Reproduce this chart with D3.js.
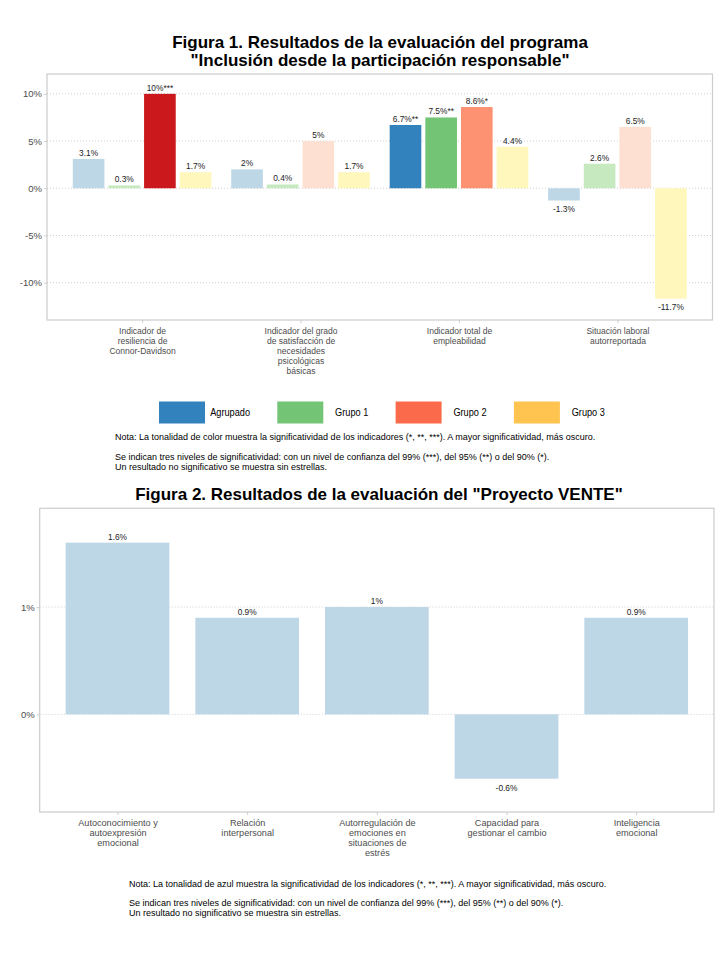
<!DOCTYPE html>
<html><head><meta charset="utf-8">
<script src="https://cdn.jsdelivr.net/npm/d3@7"></script>
<style>body{margin:0;background:#fff} svg{display:block}</style>
</head><body>
<svg id="c" width="720" height="960"></svg>
<script>
// ---------- DATA ----------
const categories1 = [
  ["Indicador de","resiliencia de","Connor-Davidson"],
  ["Indicador del grado","de satisfacción de","necesidades","psicológicas","básicas"],
  ["Indicador total de","empleabilidad"],
  ["Situación laboral","autorreportada"]
];
const series1 = ["Agrupado","Grupo 1","Grupo 2","Grupo 3"];
const valuesAgrupado = [3.1, 2, 6.7, -1.3];
const valuesGrupo1   = [0.3, 0.4, 7.5, 2.6];
const valuesGrupo2   = [10, 5, 8.6, 6.5];
const valuesGrupo3   = [1.7, 1.7, 4.4, -11.7];
const starsAgrupado = [0, 0, 2, 0];
const starsGrupo1   = [0, 0, 2, 0];
const starsGrupo2   = [3, 0, 1, 0];
const starsGrupo3   = [0, 0, 0, 0];
const yTicks1  = [-10, -5, 0, 5, 10];
const yLimits1 = [-13.95, 12.1];

const categories2 = [
  ["Autoconocimiento y","autoexpresión","emocional"],
  ["Relación","interpersonal"],
  ["Autorregulación de","emociones en","situaciones de","estrés"],
  ["Capacidad para","gestionar el cambio"],
  ["Inteligencia","emocional"]
];
const values2 = [1.6, 0.9, 1, -0.6, 0.9];
const stars2  = [0, 0, 0, 0, 0];
const yTicks2  = [0, 1];
const yLimits2 = [-0.91, 1.92];

const title1 = ["Figura 1. Resultados de la evaluación del programa", "\"Inclusión desde la participación responsable\""];
const title2 = "Figura 2. Resultados de la evaluación del \"Proyecto VENTE\"";
const notes1 = ["Nota: La tonalidad de color muestra la significatividad de los indicadores (*, **, ***). A mayor significatividad, más oscuro.",
  "Se indican tres niveles de significatividad: con un nivel de confianza del 99% (***), del 95% (**) o del 90% (*).",
  "Un resultado no significativo se muestra sin estrellas."];
const notes2 = ["Nota: La tonalidad de azul muestra la significatividad de los indicadores (*, **, ***). A mayor significatividad, más oscuro.",
  "Se indican tres niveles de significatividad: con un nivel de confianza del 99% (***), del 95% (**) o del 90% (*).",
  "Un resultado no significativo se muestra sin estrellas."];

// ---------- STYLE ----------
const NARROW = "'Liberation Sans Narrow','Arial Narrow','Liberation Sans',sans-serif";
const TITLEF = "'Liberation Sans',Arial,sans-serif";
// shades by significance level (0..3 stars)
const shades = {
  "Agrupado": ["#bdd7e7", "#6baed6", "#3182bd", "#08519c"],
  "Grupo 1":  ["#c7e9c0", "#a1d99b", "#74c476", "#31a354"],
  "Grupo 2":  ["#fee0d2", "#fc9272", "#fb6a4a", "#cb181d"],
  "Grupo 3":  ["#fff7bc", "#fee391", "#fec44f", "#fe9929"]
};
const legendColors = ["#3182bd", "#74c476", "#fb6a4a", "#fec44f"];

const svg = d3.select("#c");
svg.append("rect").attr("width",720).attr("height",960).attr("fill","#fff");

const valuesBySeries = [valuesAgrupado, valuesGrupo1, valuesGrupo2, valuesGrupo3];
const starsBySeries = [starsAgrupado, starsGrupo1, starsGrupo2, starsGrupo3];
const fmt = (v, s) => String(v) + "%" + "*".repeat(s);

function panel(g, x0, x1, y0, y1) {
  g.append("rect").attr("x", x0).attr("y", y0).attr("width", x1 - x0).attr("height", y1 - y0)
    .attr("fill", "none").attr("stroke", "#cccccc").attr("stroke-width", 1.2);
}

function drawAxes(g, x, y, yTicks, x0, x1, y1, cats, sx) {
  g.selectAll("line.grid").data(yTicks).join("line").attr("class","grid")
    .attr("x1", x0).attr("x2", x1).attr("y1", d => y(d)).attr("y2", d => y(d))
    .attr("stroke", "#cfcfcf").attr("stroke-width", 1).attr("stroke-dasharray", "1,2");
  const ya = g.append("g").attr("transform", `translate(${x0},0)`)
    .call(d3.axisLeft(y).tickValues(yTicks).tickSize(3).tickPadding(2).tickFormat(d => d + "%"));
  ya.select(".domain").remove();
  ya.selectAll("line").attr("stroke", "#cccccc");
  ya.selectAll("text").attr("fill", "#4d4d4d").style("font-family", NARROW).style("font-size", "9.5px");
  const xa = g.append("g").attr("transform", `translate(0,${y1})`)
    .call(d3.axisBottom(x).tickSize(3).tickFormat(""));
  xa.select(".domain").remove();
  xa.selectAll("line").attr("stroke", "#cccccc");
  xa.selectAll(".tick").each(function(d, i) {
    const t = d3.select(this).append("text").attr("fill", "#4d4d4d")
      .attr("transform", `scale(${sx},1)`)
      .attr("text-anchor", "middle").style("font-family", NARROW).style("font-size", "9.5px");
    cats[i].forEach((line, k) => {
      t.append("tspan").attr("x", 0).attr("y", 14 + k * 10).text(line);
    });
  });
}

// ---------- FIGURE 1 ----------
{
  const X0 = 47, X1 = 712.5, Y0 = 74, Y1 = 320;
  const g = svg.append("g");
  const idx = categories1.map((c, i) => i);
  const x = d3.scalePoint().domain(idx).range([X0, X1]).padding(0.6);
  const xs = d3.scaleBand().domain(series1).range([-x.step() * 0.45, x.step() * 0.45]);
  const y = d3.scaleLinear().domain(yLimits1).range([Y1, Y0]);
  drawAxes(g, x, y, yTicks1, X0, X1, Y1, categories1, 0.9);

  const bars = [];
  series1.forEach((s, si) => idx.forEach(ci => bars.push({s, si, ci, v: valuesBySeries[si][ci], st: starsBySeries[si][ci]})));
  const inset = 2;
  g.selectAll("rect.bar").data(bars).join("rect").attr("class","bar")
    .attr("x", d => x(d.ci) + xs(d.s) + inset)
    .attr("width", xs.bandwidth() - 2 * inset)
    .attr("y", d => y(Math.max(0, d.v)))
    .attr("height", d => Math.abs(y(d.v) - y(0)))
    .attr("fill", d => shades[d.s][d.st]);
  g.selectAll("text.lab").data(bars).join("text").attr("class","lab")
    .attr("transform", d => `translate(${x(d.ci) + xs(d.s) + xs.bandwidth() / 2},${d.v >= 0 ? y(d.v) - 3 : y(d.v) + 11}) scale(0.88,1)`)
    .attr("text-anchor", "middle").attr("fill", "#222")
    .style("font-family", NARROW).style("font-size", "9.5px")
    .text(d => fmt(d.v, d.st));
  panel(g, X0, X1, Y0, Y1);

  svg.append("text").attr("x", 380).attr("text-anchor", "middle")
    .style("font-family", TITLEF).style("font-weight", "bold").style("font-size", "17px")
    .selectAll("tspan").data(title1).join("tspan").attr("x", 380).attr("y", (d, i) => 48 + i * 18).text(d => d);

  // legend
  const lg = svg.append("g");
  series1.forEach((s, i) => {
    const bx = 159 + i * 118.3;
    lg.append("rect").attr("x", bx).attr("y", 401.5).attr("width", 46).attr("height", 22).attr("fill", legendColors[i]);
    lg.append("text").attr("transform", `translate(${bx + 91},416) scale(0.92,1)`).attr("text-anchor", "end").attr("fill", "#000")
      .style("font-family", NARROW).style("font-size", "10px").text(s);
  });
  svg.append("g").selectAll("text").data(notes1).join("text")
    .attr("x", 115).attr("y", (d, i) => [440, 460, 470][i])
    .attr("fill", "#000").style("font-family", NARROW).style("font-size", "9px").text(d => d);
}

// ---------- FIGURE 2 ----------
{
  const X0 = 39.7, X1 = 714, Y0 = 508.3, Y1 = 812;
  const g = svg.append("g");
  const idx = categories2.map((c, i) => i);
  const x = d3.scalePoint().domain(idx).range([X0, X1]).padding(0.6);
  const y = d3.scaleLinear().domain(yLimits2).range([Y1, Y0]);
  drawAxes(g, x, y, yTicks2, X0, X1, Y1, categories2, 0.96);
  const bw = x.step() * 0.8;
  const bars = idx.map(i => ({i, v: values2[i], st: stars2[i]}));
  g.selectAll("rect.bar").data(bars).join("rect").attr("class","bar")
    .attr("x", d => x(d.i) - bw / 2).attr("width", bw)
    .attr("y", d => y(Math.max(0, d.v)))
    .attr("height", d => Math.abs(y(d.v) - y(0)))
    .attr("fill", d => shades["Agrupado"][d.st]);
  g.selectAll("text.lab").data(bars).join("text").attr("class","lab")
    .attr("transform", d => `translate(${x(d.i)},${d.v >= 0 ? y(d.v) - 3 : y(d.v) + 12}) scale(0.88,1)`)
    .attr("text-anchor", "middle").attr("fill", "#222")
    .style("font-family", NARROW).style("font-size", "9.5px")
    .text(d => fmt(d.v, d.st));
  panel(g, X0, X1, Y0, Y1);

  svg.append("text").attr("x", 379).attr("y", 500).attr("text-anchor", "middle")
    .style("font-family", TITLEF).style("font-weight", "bold").style("font-size", "17px").text(title2);
  svg.append("g").selectAll("text").data(notes2).join("text")
    .attr("x", 129).attr("y", (d, i) => [887, 906, 916][i])
    .attr("fill", "#000").style("font-family", NARROW).style("font-size", "9px").text(d => d);
}
</script>
</body></html>
